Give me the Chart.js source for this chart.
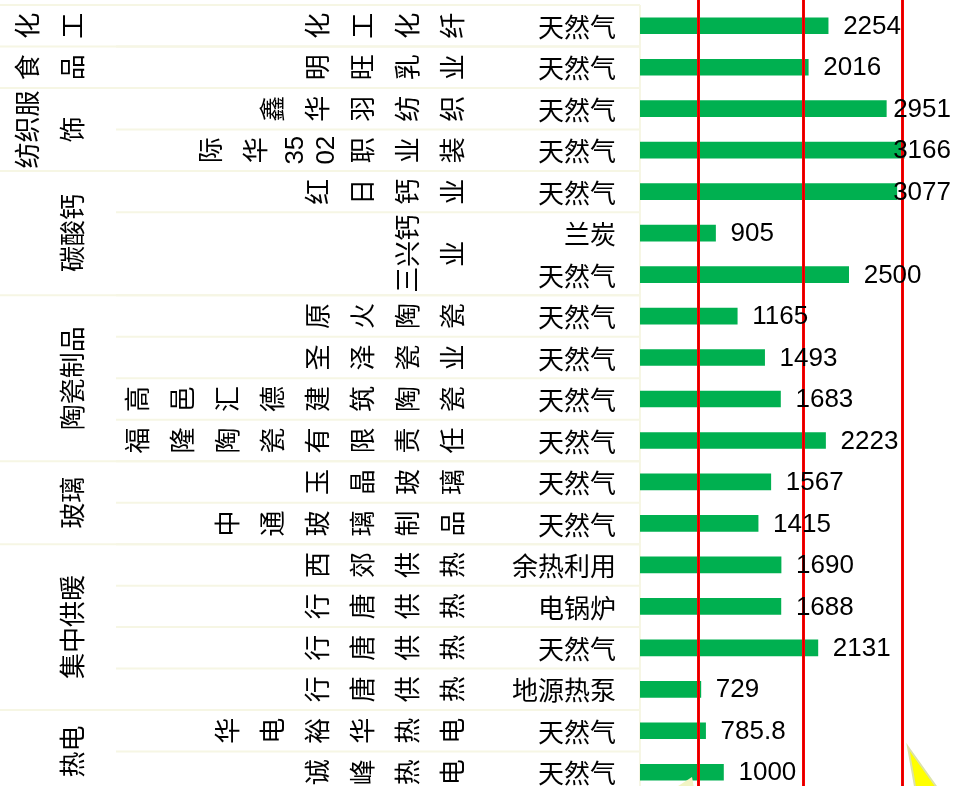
<!DOCTYPE html>
<html>
<head>
<meta charset="utf-8">
<script src="https://cdn.jsdelivr.net/npm/chart.js@4.4.1/dist/chart.umd.min.js"></script>
<style>
  html, body { margin: 0; padding: 0; background: #ffffff; overflow: hidden; }
  #wrap { width: 953px; height: 800px; position: relative; }
</style>
</head>
<body>
<div id="wrap"><canvas id="c"></canvas></div>
<script>
// ---- data ----
const groups = ['化工', '食品', '纺织服饰', '碳酸钙', '陶瓷制品', '玻璃', '集中供暖', '热电'];
const groupSizes = [1, 1, 2, 3, 4, 2, 4, 2];
const companies = ['化工化纤', '明旺乳业', '鑫华羽纺织', '际华3502职业装', '红日钙业', '三兴钙业',
  '原火陶瓷', '圣泽瓷业', '高邑汇德建筑陶瓷', '福隆陶瓷有限责任', '玉晶玻璃', '中通玻璃制品',
  '西郊供热', '行唐供热', '行唐供热', '行唐供热', '华电裕华热电', '诚峰热电'];
const companySizes = [1, 1, 1, 1, 1, 2, 1, 1, 1, 1, 1, 1, 1, 1, 1, 1, 1, 1];
const fuels = ['天然气', '天然气', '天然气', '天然气', '天然气', '兰炭', '天然气', '天然气', '天然气',
  '天然气', '天然气', '天然气', '天然气', '余热利用', '电锅炉', '天然气', '地源热泵', '天然气', '天然气'];
const values = [2254, 2016, 2951, 3166, 3077, 905, 2500, 1165, 1493, 1683, 2223, 1567, 1415,
  1690, 1688, 2131, 729, 785.8, 1000];
const refLines = [690, 1953, 3139];

const FONT = '"Liberation Sans", "Noto Sans CJK SC", sans-serif';
const FS = 26;
const SEP = '#F6F6E4';

function wrapChars(ctx, text, maxLen) {
  const lines = [];
  let cur = '';
  for (const ch of text) {
    if (cur && ctx.measureText(cur + ch).width > maxLen) {
      lines.push(cur);
      cur = ch;
    } else {
      cur += ch;
    }
  }
  if (cur) lines.push(cur);
  return lines;
}
function lineH(line) { return /[\u4e00-\u9fff]/.test(line) ? 45 : 31; }

function drawRotatedBlock(ctx, text, anchorX, yCenter, spanH) {
  const lines = wrapChars(ctx, text, spanH - 3);
  let x = anchorX;
  const xs = new Array(lines.length);
  xs[lines.length - 1] = x;
  for (let i = lines.length - 2; i >= 0; i--) {
    x -= (lineH(lines[i]) + lineH(lines[i + 1])) / 2;
    xs[i] = x;
  }
  lines.forEach((ln, i) => {
    ctx.save();
    ctx.translate(xs[i], yCenter);
    ctx.rotate(-Math.PI / 2);
    ctx.fillText(ln, 0, 0);
    ctx.restore();
  });
}

const tablePlugin = {
  id: 'tablePlugin',
  beforeDatasetsDraw(chart) {
    const { ctx, chartArea, scales: { y } } = chart;
    const band = (y.getPixelForValue(1) - y.getPixelForValue(0));
    const top = i => y.getPixelForValue(i) - band / 2;
    ctx.save();
    ctx.strokeStyle = SEP;
    ctx.lineWidth = 2;
    let r = 0;
    companySizes.forEach(n => {
      ctx.beginPath(); ctx.moveTo(116, top(r)); ctx.lineTo(chartArea.left, top(r)); ctx.stroke();
      r += n;
    });
    r = 0;
    groupSizes.forEach(n => {
      ctx.beginPath(); ctx.moveTo(0, top(r)); ctx.lineTo(chartArea.left, top(r)); ctx.stroke();
      r += n;
    });
    ctx.beginPath(); ctx.moveTo(0, top(r)); ctx.lineTo(chartArea.left, top(r)); ctx.stroke();
    ctx.beginPath(); ctx.moveTo(chartArea.left, top(0)); ctx.lineTo(chartArea.left, chart.height); ctx.stroke();
    ctx.restore();
  },
  afterDatasetsDraw(chart) {
    const { ctx, chartArea, scales: { x, y } } = chart;
    const band = (y.getPixelForValue(1) - y.getPixelForValue(0));
    ctx.save();
    refLines.forEach(v => {
      const px = Math.round(x.getPixelForValue(v)) + 0.5;
      ctx.strokeStyle = '#FF0000';
      ctx.lineWidth = 3;
      ctx.beginPath(); ctx.moveTo(px, 0); ctx.lineTo(px, chart.height); ctx.stroke();
      ctx.strokeStyle = '#D00000';
      ctx.lineWidth = 1;
      ctx.beginPath(); ctx.moveTo(px, 0); ctx.lineTo(px, chart.height); ctx.stroke();
    });
    ctx.fillStyle = '#000';
    ctx.font = FS + 'px ' + FONT;
    ctx.textAlign = 'left';
    ctx.textBaseline = 'middle';
    values.forEach((v, i) => {
      const t = String(v);
      const w = ctx.measureText(t).width;
      let lx = x.getPixelForValue(v) + 15;
      if (lx + w > chartArea.right - 2) lx = chartArea.right - 2 - w;
      ctx.fillText(t, lx, y.getPixelForValue(i) + 1);
    });
    ctx.textAlign = 'center';
    let r = 0;
    groupSizes.forEach((n, gi) => {
      const yc = (y.getPixelForValue(r) + y.getPixelForValue(r + n - 1)) / 2;
      drawRotatedBlock(ctx, groups[gi], 75, yc, n * band);
      r += n;
    });
    r = 0;
    companySizes.forEach((n, ci) => {
      const yc = (y.getPixelForValue(r) + y.getPixelForValue(r + n - 1)) / 2;
      drawRotatedBlock(ctx, companies[ci], 455, yc, n * band);
      r += n;
    });
    // decorative yellow arrow shapes (cropped)
    ctx.fillStyle = '#FFFF00';
    ctx.strokeStyle = '#DCE3A8';
    ctx.lineWidth = 2;
    ctx.beginPath(); ctx.moveTo(908, 747); ctx.lineTo(940, 792); ctx.lineTo(916, 792); ctx.closePath();
    ctx.fill(); ctx.stroke();
    ctx.fillStyle = '#F2F4C4';
    ctx.beginPath(); ctx.moveTo(675, 788); ctx.lineTo(692, 777); ctx.lineTo(694, 788); ctx.closePath();
    ctx.fill();
    ctx.restore();
  }
};

new Chart(document.getElementById('c'), {
  type: 'bar',
  data: {
    labels: fuels,
    datasets: [{
      data: values,
      backgroundColor: '#00B050',
      borderWidth: 0,
      barThickness: 16
    }]
  },
  options: {
    indexAxis: 'y',
    responsive: true,
    maintainAspectRatio: false,
    animation: false,
    layout: { padding: { top: 5, bottom: 7, left: 0, right: 0 } },
    plugins: { legend: { display: false }, tooltip: { enabled: false } },
    scales: {
      x: { display: false, min: 0, max: 3750 },
      y: {
        grid: { display: false },
        border: { display: false },
        ticks: {
          color: '#000',
          padding: 16,
          labelOffset: 4,
          font: { family: FONT, size: FS }
        },
        afterFit(scale) {
          scale.width = 640;
          scale.paddingTop = 0;
          scale.paddingBottom = 0;
        }
      }
    }
  },
  plugins: [tablePlugin]
});
</script>
</body>
</html>
